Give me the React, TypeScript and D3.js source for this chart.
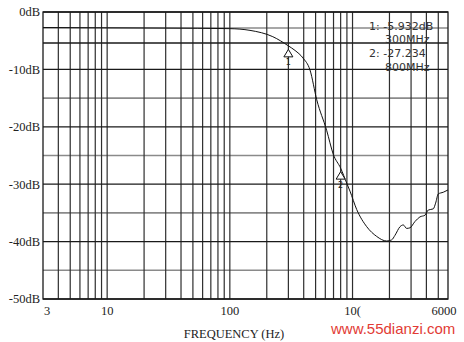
import React from "react";
import * as d3 from "d3";

const freqHz = [3, 10, 30, 100, 146, 224, 300, 340, 394, 450, 511, 615, 697, 800, 896, 953, 1081, 1305, 1574, 1899, 2085, 2219, 2439, 2593, 2761, 2937, 3228, 3543, 3894, 4143, 4551, 4755, 4997, 5490, 6000];
const gainDb = [-2.7, -2.75, -2.8, -2.9, -3.2, -4.3, -5.9, -6.7, -8.0, -10.1, -15.3, -20.6, -24.8, -27.2, -29.8, -31.2, -34.4, -37.4, -39.1, -39.9, -39.7, -38.9, -37.4, -37.1, -37.7, -37.6, -36.5, -35.7, -35.4, -34.5, -34.3, -33.3, -31.7, -31.4, -31.0];

const yMajor = [0, -10, -20, -30, -40, -50];
const yMajorLabels = ["0dB", "-10dB", "-20dB", "-30dB", "-40dB", "-50dB"];
const yBlackExtra = [-5.4];
const yGray = [-2.8, -15, -25, -35, -45];
const xGrid = [4, 5, 6, 7, 8, 9, 10, 20, 30, 40, 50, 60, 70, 80, 90, 100, 200, 300, 400, 500, 600, 700, 800, 900, 1000, 2000, 3000, 4000, 5000];
const xTickValues = [3, 10, 100, 1000, 6000];
const xTickLabels = ["3", "10", "100", "10(", "6000"];
const markerFreq = [300, 800];
const markerDb = [-5.9, -27.2];
const markerNames = ["1", "2"];
const readoutLines = ["1: -5.932dB", "300MHz", "2: -27.234", "800MHz"];

export default function App() {
  const x = d3.scaleLog().domain([3, 6000]).range([43, 448]);
  const y = d3.scaleLinear().domain([0, -50]).range([12, 299]);
  const pts: [number, number][] = freqHz.map((f, i) => [f, gainDb[i]]);
  const line = d3
    .line<[number, number]>()
    .x((d) => x(d[0]))
    .y((d) => y(d[1]))
    .curve(d3.curveMonotoneX);
  const serif = "'Liberation Serif', 'Times New Roman', serif";
  const sans = "'DejaVu Sans', sans-serif";
  return (
    <div style={{ position: "absolute", left: 0, top: 0 }}>
      <svg width={464} height={342} style={{ display: "block", background: "#fff" }}>
        {yGray.map((v, i) => (
          <line key={"g" + i} x1={43} x2={448} y1={y(v)} y2={y(v)} stroke="#8a8a8a" strokeWidth={1.6} />
        ))}
        {xGrid.map((v, i) => (
          <line key={"v" + i} x1={x(v)} x2={x(v)} y1={12} y2={299} stroke="#2e2e2e" strokeWidth={1.2} />
        ))}
        {yMajor.concat(yBlackExtra).map((v, i) => (
          <line key={"h" + i} x1={43} x2={448} y1={y(v)} y2={y(v)} stroke="#1a1a1a" strokeWidth={1.3} />
        ))}
        <rect x={43} y={12} width={405} height={287} fill="none" stroke="#1a1a1a" strokeWidth={1.3} />
        <path d={line(pts) || ""} fill="none" stroke="#111" strokeWidth={1} />
        {markerFreq.map((f, i) => {
          const cx = x(f);
          const cy = y(markerDb[i]) + 3.5;
          return (
            <g key={"m" + i}>
              <path d={`M${cx},${cy} L${cx + 4.5},${cy + 7.5} L${cx - 4.5},${cy + 7.5} Z`} fill="#fff" stroke="#111" strokeWidth={1} />
              <text x={cx} y={cy + 16} fontSize={8} fontFamily={sans} textAnchor="middle" fill="#222">
                {markerNames[i]}
              </text>
            </g>
          );
        })}
        {readoutLines.map((t, i) => (
          <text key={"r" + i} x={i % 2 === 0 ? 369 : 385} y={29.5 + i * 13.7} fontSize={11} fontFamily={sans} fill="#333">
            {t}
          </text>
        ))}
        {yMajor.map((v, i) => (
          <text key={"yl" + i} x={40} y={y(v)} dy="0.35em" fontSize={12.5} fontFamily={serif} textAnchor="end" fill="#222">
            {yMajorLabels[i]}
          </text>
        ))}
        {xTickValues.map((v, i) => (
          <text
            key={"xl" + i}
            x={x(v) + (i === 0 ? 4 : i === xTickValues.length - 1 ? -4 : 0)}
            y={315}
            fontSize={12.5}
            fontFamily={serif}
            textAnchor="middle"
            fill="#222"
          >
            {xTickLabels[i]}
          </text>
        ))}
        <text x={234} y={338} fontSize={12.5} fontFamily={serif} textAnchor="middle" fill="#222">
          FREQUENCY (Hz)
        </text>
        <text x={331} y={334} fontSize={15} fontFamily="'Liberation Sans', Arial, sans-serif" fill="#e23b35">
          www.55dianzi.com
        </text>
      </svg>
    </div>
  );
}
